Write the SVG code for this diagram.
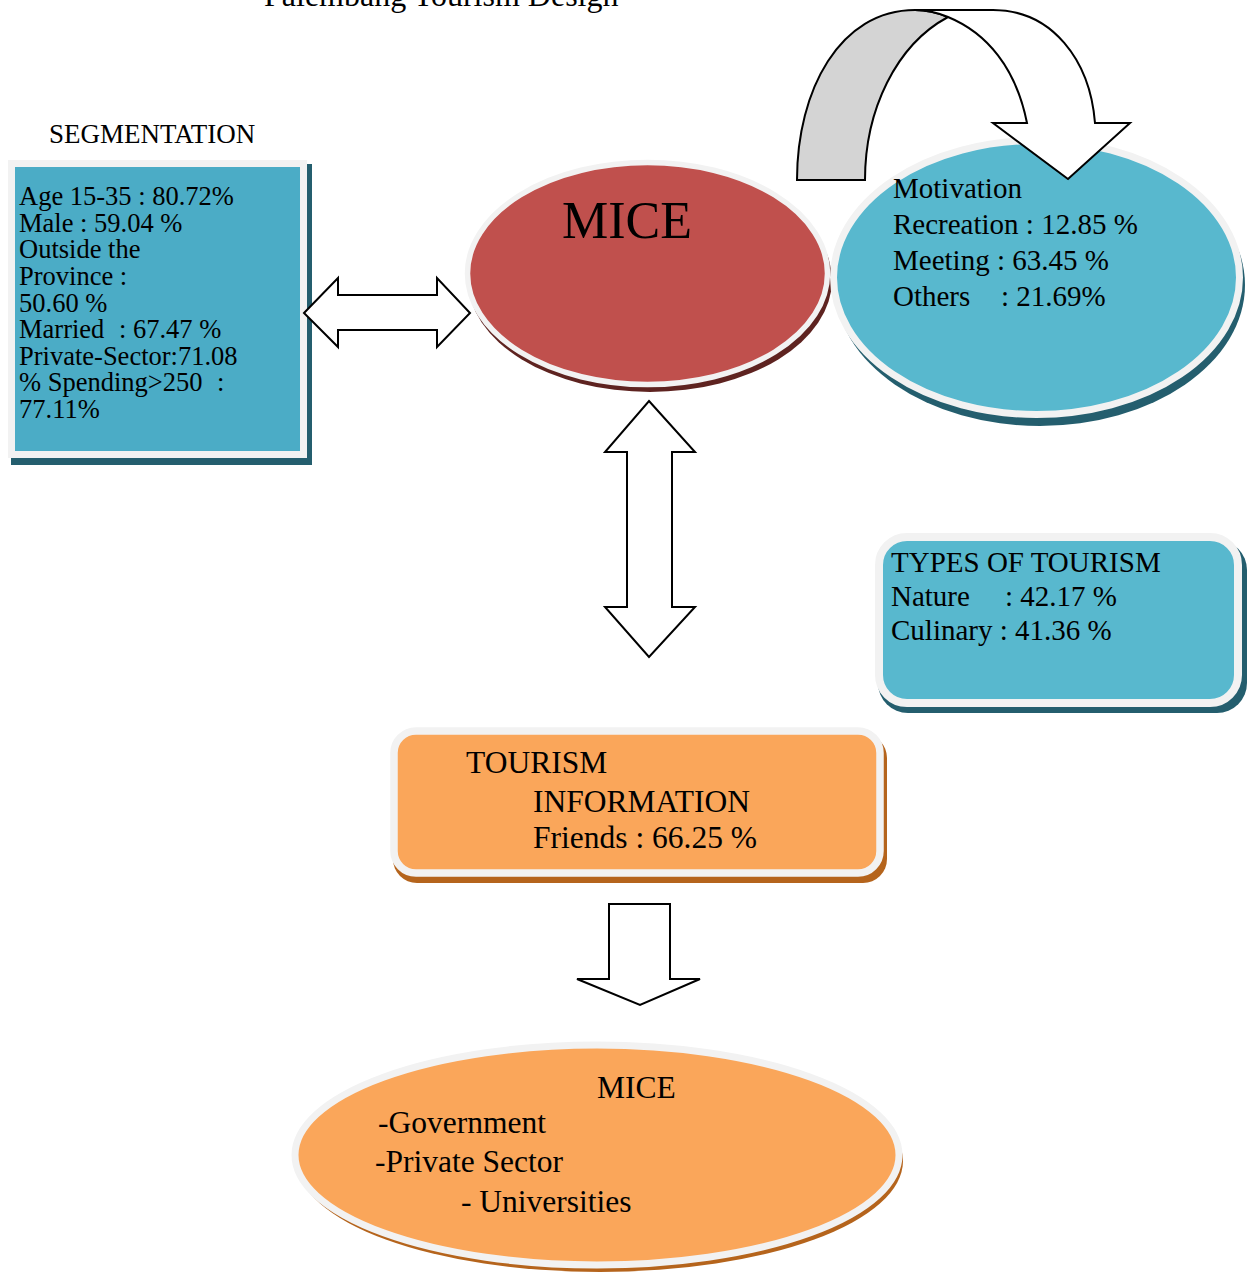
<svg xmlns="http://www.w3.org/2000/svg" width="1256" height="1275" viewBox="0 0 1256 1275">
  <style>
    text { font-family: "Liberation Serif", "Times New Roman", serif; fill: #000; }
    .rim { stroke: #F2F2F2; }
    .teal { fill: #58B8CE; }
    .teal-dark { fill: #4BACC6; }
    .teal-shadow { fill: #245E6E; }
    .red { fill: #C0504D; }
    .red-shadow { fill: #5E2320; }
    .orange { fill: #FAA65A; }
    .orange-shadow { fill: #B5641C; }
    .arrow { fill: #FFFFFF; stroke: #000; stroke-width: 2; stroke-linejoin: miter; }
    .arrow-back { fill: #D4D4D4; stroke: #000; stroke-width: 2; }
    .t26 { font-size: 26.5px; }
    .t29 { font-size: 29px; }
    .t31 { font-size: 31.5px; }
  </style>

  <rect width="1256" height="1275" fill="#FFFFFF"/>

  <!-- page title (runs off the top edge) -->
  <text x="264" y="6" font-size="32">Palembang Tourism Design</text>

  <text x="49" y="143" font-size="27">SEGMENTATION</text>

  <!-- segmentation box -->
  <g id="segmentation">
    <rect class="teal-shadow" x="11" y="164" width="301" height="301"/>
    <rect class="teal-dark rim" x="11.5" y="163.5" width="292" height="291" stroke-width="7"/>
    <g class="t26">
      <text x="19" y="205">Age 15-35 : 80.72%</text>
      <text x="19" y="232">Male : 59.04 %</text>
      <text x="19" y="258">Outside the</text>
      <text x="19" y="285">Province :</text>
      <text x="19" y="312">50.60 %</text>
      <text x="19" y="338">Married<tspan x="119">: 67.47 %</tspan></text>
      <text x="19" y="365">Private-Sector:71.08</text>
      <text x="19" y="391">% Spending&gt;250<tspan x="217">:</tspan></text>
      <text x="19" y="418">77.11%</text>
    </g>
  </g>

  <!-- central MICE node -->
  <g id="mice">
    <ellipse class="red-shadow" cx="650" cy="280" rx="182" ry="112"/>
    <ellipse class="red rim" cx="647.5" cy="273.5" rx="180" ry="111" stroke-width="5.5"/>
    <text x="562" y="238" font-size="52">MICE</text>
  </g>

  <!-- motivation node -->
  <g id="motivation">
    <ellipse class="teal-shadow" cx="1040" cy="285" rx="205" ry="141"/>
    <ellipse class="teal rim" cx="1036.5" cy="277.5" rx="203" ry="137" stroke-width="7"/>
    <g class="t29">
      <text x="893" y="198">Motivation</text>
      <text x="893" y="234">Recreation : 12.85 %</text>
      <text x="893" y="270">Meeting : 63.45 %</text>
      <text x="893" y="306">Others<tspan x="1001">: 21.69%</tspan></text>
    </g>
  </g>

  <!-- types of tourism node -->
  <g id="types-of-tourism">
    <rect class="teal-shadow" x="878" y="540" width="369" height="173" rx="30"/>
    <rect class="teal rim" x="879" y="537" width="359" height="166" rx="28" stroke-width="8"/>
    <g class="t29">
      <text x="891" y="572">TYPES OF TOURISM</text>
      <text x="891" y="606">Nature<tspan x="1005">: 42.17 %</tspan></text>
      <text x="891" y="640">Culinary : 41.36 %</text>
    </g>
  </g>

  <!-- tourism information node -->
  <g id="tourism-information">
    <rect class="orange-shadow" x="393" y="734" width="494" height="149" rx="24"/>
    <rect class="orange rim" x="394" y="731" width="486" height="142" rx="22" stroke-width="7.5"/>
    <g class="t31">
      <text x="466" y="773">TOURISM</text>
      <text x="533" y="812">INFORMATION</text>
      <text x="533" y="848">Friends : 66.25 %</text>
    </g>
  </g>

  <!-- MICE stakeholders node -->
  <g id="mice-stakeholders">
    <ellipse class="orange-shadow" cx="600" cy="1161" rx="303" ry="111"/>
    <ellipse class="orange rim" cx="597" cy="1155" rx="302" ry="110" stroke-width="7"/>
    <g class="t31">
      <text x="597" y="1098">MICE</text>
      <text x="378" y="1133">-Government</text>
      <text x="375" y="1172">-Private Sector</text>
      <text x="461" y="1212">- Universities</text>
    </g>
  </g>

  <!-- connectors, drawn over the nodes -->
  <g id="connectors">
    <!-- segmentation <-> MICE -->
    <polygon class="arrow" points="304,313 338,278 338,295 437,295 437,278 470,313 437,347 437,330 338,330 338,347"/>
    <!-- MICE <-> tourism information -->
    <polygon class="arrow" points="649,401 695,452 672,452 672,607 695,607 649,657 605,607 627,607 627,452 605,452"/>
    <!-- tourism information -> stakeholders -->
    <polygon class="arrow" points="609,904 670,904 670,979 700,979 640,1005 577,979 609,979"/>
    <!-- curved arrow into motivation -->
    <path class="arrow-back" d="M797,180 C797,90 840,10 915,10 C925,10 936,12 948,17 C896,45 865,110 865,180 Z"/>
    <path class="arrow" d="M915,10 L993,10 C1052,10 1090,60 1095,123 L1130,123 L1068,179 L993,123 L1027,123 C1016,68 987,33 948,17 C936,12 925,10 915,10 Z"/>
  </g>
</svg>
